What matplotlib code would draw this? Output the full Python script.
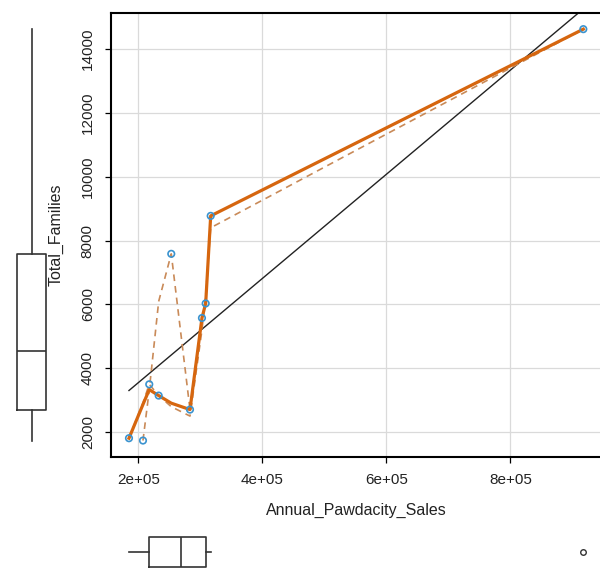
import numpy as np
import matplotlib.pyplot as plt

plt.rcParams['font.family'] = ['Liberation Sans', 'DejaVu Sans']

sales = [185000, 207580, 217700, 232900, 253200, 283400, 302700, 308700, 316800, 917742]
families = [1813, 1740, 3500, 3147, 7584, 2709, 5575, 6031, 8772, 14616]

# loess smoother and spread lines at the same x values
smooth = [1813, 2870, 3334, 3147, 2910, 2709, 5575, 6031, 8772, 14616]
spread_lo = [1813, 2920, 3500, 3147, 2800, 2506, 5200, 6300, 8400, 14616]
spread_hi = [np.nan, 1740, 3319, 6094, 7584, 2709, 5575, 6031, 8772, 14616]

xticks = [2e5, 4e5, 6e5, 8e5]
xticklabels = ["2e+05", "4e+05", "6e+05", "8e+05"]
yticks = [2000, 4000, 6000, 8000, 10000, 12000, 14000]

x = np.array(sales, dtype=float)
y = np.array(families, dtype=float)


def fivenum_stats(v):
    # tukey hinges like R's boxplot
    v = np.sort(v)
    n = len(v)
    n4 = np.floor((n + 3) / 2) / 2
    d = np.array([1, n4, (n + 1) / 2, n + 1 - n4, n]) - 1
    q = 0.5 * (v[np.floor(d).astype(int)] + v[np.ceil(d).astype(int)])
    iqr = q[3] - q[1]
    inside = v[(v >= q[1] - 1.5 * iqr) & (v <= q[3] + 1.5 * iqr)]
    fl = v[(v < q[1] - 1.5 * iqr) | (v > q[3] + 1.5 * iqr)]
    return [dict(med=q[2], q1=q[1], q3=q[3], whislo=inside.min(), whishi=inside.max(), fliers=fl)]


def pad(v):
    lo, hi = min(v), max(v)
    d = (hi - lo) * 0.04
    return lo - d, hi + d


W, H = 600, 568
fig = plt.figure(figsize=(6.0, 5.68), dpi=100)
L, R, T, B = 110.8, 601.5, 12.7, 457
ax = fig.add_axes([L / W, (H - B) / H, (R - L) / W, (B - T) / H])
xlim, ylim = pad(sales), pad(families)
ax.set_xlim(xlim)
ax.set_ylim(ylim)

ax.grid(True, color='#dadada', lw=0.9)
ax.set_axisbelow(True)

# least squares line over the data range
b, a = np.polyfit(x, y, 1)
xs = np.array([x.min(), x.max()])
ax.plot(xs, a + b * xs, color='#222222', lw=1.0, zorder=2)

ax.plot(x, spread_lo, color='#c98a58', lw=1.2, dashes=(4, 3), zorder=2)
ax.plot(x, spread_hi, color='#c98a58', lw=1.2, dashes=(4, 3), zorder=2)
ax.plot(x, smooth, color='#d6660f', lw=2.3, zorder=3)
ax.scatter(x, y, s=22, facecolors='none', edgecolors='#3a93cf', linewidths=1.2, zorder=4)

ax.set_xticks(xticks)
ax.set_xticklabels(xticklabels)
ax.set_yticks(yticks)
ax.tick_params(length=4.5, width=0.9, labelsize=11, pad=7, labelcolor='#222222')
ax.tick_params(axis='y', labelrotation=90)
for lab in ax.get_yticklabels():
    lab.set_va('center')
for s in ax.spines.values():
    s.set_linewidth(1.5)

fig.text(356 / W, 1 - 510 / H, "Annual_Pawdacity_Sales", ha='center', va='center', fontsize=11.5, color='#222222')
fig.text(56 / W, 1 - 235 / H, "Total_Families", ha='center', va='center', rotation=90, fontsize=11.5, color='#222222')

boxkw = dict(showcaps=False, patch_artist=False,
             boxprops=dict(color='#333333', lw=1.2),
             whiskerprops=dict(color='#333333', lw=1.2),
             medianprops=dict(color='#333333', lw=1.2),
             flierprops=dict(marker='o', markersize=4, markerfacecolor='none',
                             markeredgecolor='#333333', markeredgewidth=1.0))

# marginal boxplot for y
axl = fig.add_axes([0, (H - B) / H, 63 / W, (B - T) / H])
axl.bxp(fivenum_stats(y), positions=[0.5], widths=0.45, **boxkw)
axl.set_xlim(0, 1)
axl.set_ylim(ylim)
axl.axis('off')

# marginal boxplot for x
axb = fig.add_axes([L / W, (H - 582) / H, (R - L) / W, 60 / H])
axb.bxp(fivenum_stats(x), positions=[0.5], widths=0.5, orientation='horizontal', **boxkw)
axb.set_ylim(0, 1)
axb.set_xlim(xlim)
axb.axis('off')

fig.savefig("out.png", dpi=100)
